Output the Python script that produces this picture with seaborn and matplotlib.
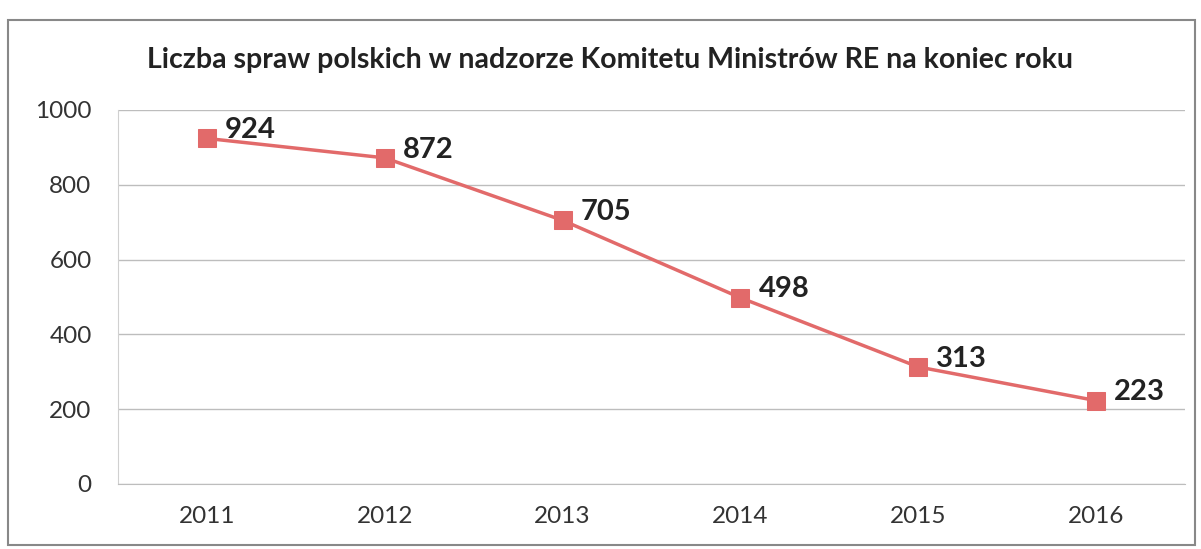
import matplotlib
matplotlib.use("Agg")
import matplotlib.pyplot as plt
import seaborn as sns
import pandas as pd
from matplotlib.patches import Rectangle

years = ["2011", "2012", "2013", "2014", "2015", "2016"]
cases = [924, 872, 705, 498, 313, 223]
title = "Liczba spraw polskich w nadzorze Komitetu Ministrów RE na koniec roku"
yticks = [0, 200, 400, 600, 800, 1000]

df = pd.DataFrame({"year": years, "cases": cases})

sns.set_style("white")
plt.rcParams["font.family"] = ["Lato", "DejaVu Sans"]

W, H = 1201, 549
fig = plt.figure(figsize=(W / 100, H / 100), dpi=100)
ax = fig.add_axes([118 / W, 1 - 484 / H, (1185 - 118) / W, (484 - 110) / H])

color = "#E26A6A"
sns.lineplot(data=df, x="year", y="cases", ax=ax, color=color, linewidth=2.5,
             marker="s", markersize=13, markeredgecolor=color, sort=False)

for i, v in enumerate(cases):
    ax.annotate(str(v), (i, v), xytext=(13, 6), textcoords="offset points",
                ha="left", va="center", fontsize=21, fontweight="bold", color="#222222")

ax.set_ylim(0, 1000)
ax.set_xlim(-0.5, len(years) - 0.5)
ax.set_yticks(yticks)
ax.set_yticklabels([str(t) for t in yticks])
ax.set_xlabel("")
ax.set_ylabel("")
ax.grid(axis="y", color="#BDBDBD", linewidth=1)
ax.grid(axis="x", visible=False)
for s in ["top", "right"]:
    ax.spines[s].set_visible(False)
ax.spines["left"].set_color("#D0D0D0")
ax.spines["bottom"].set_color("#BDBDBD")
ax.tick_params(axis="y", labelsize=17.5, colors="#333333", length=0, pad=19)
ax.tick_params(axis="x", labelsize=17.5, colors="#333333", length=0, pad=16)
# minor ticks at category boundaries
ax.set_xticks([i - 0.5 for i in range(len(years) + 1)], minor=True)
ax.tick_params(axis="x", which="minor", length=6, color="#D0D0D0", direction="out")

fig.text(610 / W, 1 - 60 / H, title, ha="center", va="center", fontsize=20.5,
         fontweight="bold", color="#222222")

fig.patches.append(Rectangle((8 / W, 1 - 545 / H), (1195 - 8) / W, (545 - 20) / H,
                             transform=fig.transFigure, fill=False,
                             edgecolor="#888888", linewidth=1.5))

fig.savefig("out.png", dpi=100, facecolor="white")
